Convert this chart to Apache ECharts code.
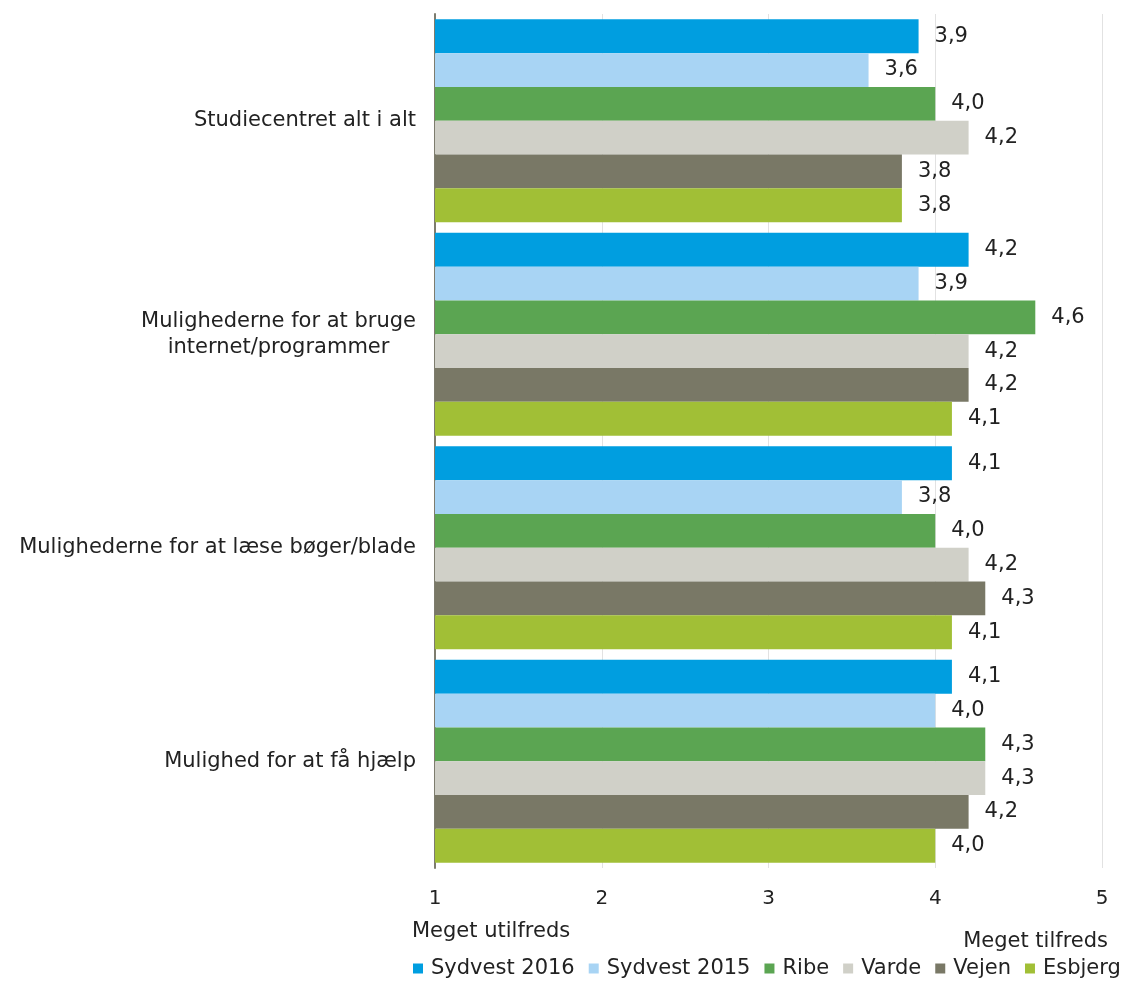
<!DOCTYPE html>
<html>
<head>
<meta charset="utf-8">
<script src="https://cdn.jsdelivr.net/npm/echarts@6/dist/echarts.min.js"></script>
<style>
  html, body { margin: 0; padding: 0; background: #fff; }
  #chart { width: 1130px; height: 981px; }
</style>
</head>
<body>
<div id="chart"></div>
<script>
// spørgsmål (kategorier)
const categories = [
  'Studiecentret alt i alt',
  'Mulighederne for at bruge\ninternet/programmer',
  'Mulighederne for at læse bøger/blade',
  'Mulighed for at få hjælp'
]
const seriesNames = ['Sydvest 2016', 'Sydvest 2015', 'Ribe', 'Varde', 'Vejen', 'Esbjerg']
const sydvest2016 = [3.9, 4.2, 4.1, 4.1]
const sydvest2015 = [3.6, 3.9, 3.8, 4.0]
const ribe = [4.0, 4.6, 4.0, 4.3]
const varde = [4.2, 4.2, 4.2, 4.3]
const vejen = [3.8, 4.2, 4.3, 4.2]
const esbjerg = [3.8, 4.1, 4.1, 4.0]
const xTicks = [1, 2, 3, 4, 5]

const colors = ['#009ee0', '#a8d4f4', '#5ba552', '#d0d0c8', '#797866', '#a1bf36']
const fontFamily = 'DejaVu Sans, Verdana, sans-serif'
const fs = 20   // akse-tal
const fsText = 21 // tekster og værdier

const chart = echarts.init(document.getElementById('chart'))

const seriesData = [sydvest2016, sydvest2015, ribe, varde, vejen, esbjerg]

chart.setOption({
  animation: false,
  textStyle: { fontFamily },
  grid: {
    left: 435,
    right: 28,
    top: 14,
    bottom: 113
  },
  legend: {
    data: seriesNames,
    top: 958,
    left: 413,
    padding: 0,
    icon: 'rect',
    itemWidth: 10,
    itemHeight: 10,
    itemGap: 14,
    textStyle: { fontSize: fsText, color: '#222', fontFamily, padding: [0, 0, 0, 3] }
  },
  xAxis: {
    type: 'value',
    min: xTicks[0],
    max: xTicks[xTicks.length - 1],
    interval: 1,
    axisLine: { show: false },
    axisTick: { show: false },
    axisLabel: { fontSize: fs, color: '#222', margin: 21 },
    splitLine: { lineStyle: { color: '#e2e2e2', width: 1 } }
  },
  yAxis: {
    type: 'category',
    data: categories,
    inverse: true,
    axisLine: { show: true, lineStyle: { color: '#7d7c6e', width: 2 } },
    axisTick: { show: false },
    axisLabel: {
      margin: 19,
      formatter: v => v.split('\n').map(s => '{c|' + s + '}').join('\n'),
      rich: {
        c: { fontSize: fsText, color: '#222', fontFamily, align: 'center', lineHeight: 26 }
      }
    }
  },
  graphic: [
    {
      type: 'text',
      left: 412,
      top: 921,
      style: { text: 'Meget utilfreds', fontSize: fsText, fill: '#222', fontFamily }
    },
    {
      type: 'text',
      right: 22,
      top: 931,
      style: { text: 'Meget tilfreds', fontSize: fsText, fill: '#222', fontFamily }
    }
  ],
  series: seriesNames.map((name, i) => ({
    name,
    type: 'bar',
    data: seriesData[i],
    barGap: 0,
    barCategoryGap: '5%',
    itemStyle: { color: colors[i] },
    label: {
      show: true,
      position: 'right',
      distance: 16,
      fontSize: fsText,
      color: '#222',
      formatter: p => p.value.toFixed(1).replace('.', ',')
    }
  }))
})
</script>
</body>
</html>
